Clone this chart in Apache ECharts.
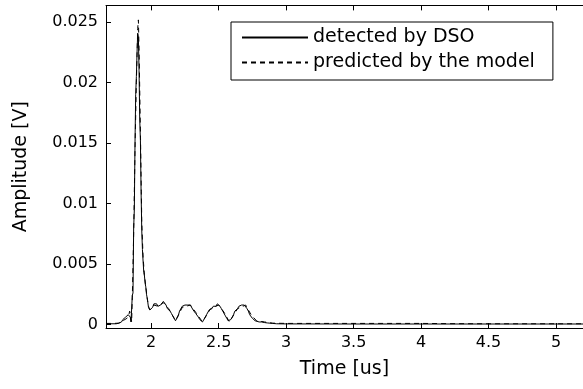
<!DOCTYPE html>
<html><head><meta charset="utf-8">
<script src="https://cdn.jsdelivr.net/npm/echarts@6/dist/echarts.min.js"></script>
<style>html,body{margin:0;padding:0;background:#fff}#c{width:583px;height:389px}</style>
</head><body><div id="c"></div>
<script>
const xTicks = [2, 2.5, 3, 3.5, 4, 4.5, 5];
const yTicks = [0, 0.005, 0.01, 0.015, 0.02, 0.025];
const seriesNames = ['detected by DSO', 'predicted by the model'];

const timeDetected = [1.665,1.70,1.74,1.76,1.78,1.79,1.80,1.81,1.82,1.83,1.84,1.845,1.85,1.855,1.86,1.865,1.87,1.875,1.88,1.885,1.89,1.895,1.90,1.905,1.91,1.915,1.92,1.925,1.93,1.935,1.94,1.945,1.95,1.955,1.96,1.965,1.97,1.975,1.98,1.99,2.00,2.01,2.02,2.03,2.04,2.05,2.06,2.07,2.08,2.09,2.10,2.11,2.12,2.13,2.14,2.15,2.16,2.17,2.18,2.19,2.20,2.21,2.22,2.23,2.24,2.25,2.26,2.27,2.28,2.29,2.30,2.31,2.32,2.33,2.34,2.35,2.36,2.37,2.38,2.39,2.40,2.41,2.42,2.43,2.44,2.45,2.46,2.47,2.48,2.49,2.50,2.51,2.52,2.53,2.54,2.55,2.56,2.57,2.58,2.59,2.60,2.61,2.62,2.63,2.64,2.65,2.66,2.67,2.68,2.69,2.70,2.71,2.72,2.73,2.74,2.75,2.76,2.77,2.78,2.80,2.82,2.84,2.86,2.88,2.90,2.93,3.00,3.50,4.00,4.50,5.00,5.20];
const detected = [0.00005,0.00005,0.00005,0.0001,0.0002,0.0004,0.0003,0.0006,0.0005,0.0008,0.0009,0.0006,0.0002,0.0001,0.0024,0.0026,0.0080,0.0095,0.0150,0.0190,0.0205,0.0225,0.0241,0.0238,0.0210,0.0170,0.0152,0.0110,0.0078,0.0062,0.0052,0.0043,0.0040,0.0034,0.0031,0.0025,0.0022,0.0018,0.0014,0.0012,0.0013,0.0014,0.0017,0.0016,0.0017,0.0015,0.0014,0.0016,0.0017,0.0019,0.0018,0.0016,0.0013,0.0014,0.0011,0.0009,0.0008,0.0005,0.0003,0.0005,0.0007,0.0011,0.0012,0.0015,0.0014,0.0016,0.0017,0.0016,0.0017,0.0016,0.0015,0.0012,0.0011,0.0009,0.0009,0.0006,0.0004,0.0003,0.0002,0.0004,0.0005,0.0008,0.0009,0.0012,0.0013,0.0013,0.0015,0.0016,0.0015,0.0017,0.0016,0.0015,0.0013,0.0011,0.0010,0.0007,0.0005,0.0003,0.0002,0.0004,0.0006,0.0008,0.0011,0.0012,0.0013,0.0015,0.0014,0.0016,0.0017,0.0016,0.0015,0.0013,0.0011,0.0008,0.0007,0.0005,0.0004,0.0003,0.0003,0.0002,0.0002,0.00015,0.00012,0.0001,0.00008,0.00005,0.00004,0.00003,0.00003,0.00003,0.00003,0.00003];

const timePredicted = [1.665,1.72,1.76,1.79,1.82,1.835,1.84,1.845,1.855,1.86,1.87,1.88,1.89,1.90,1.905,1.91,1.92,1.93,1.94,1.95,1.96,1.97,1.98,1.99,2.02,2.05,2.09,2.13,2.18,2.23,2.29,2.33,2.38,2.44,2.50,2.54,2.58,2.64,2.70,2.74,2.78,2.84,2.90,3.00,3.50,4.00,4.20,4.50,5.00,5.20];
const predicted = [0.00008,0.00008,0.0001,0.0003,0.0005,0.0008,0.0011,0.0009,0.0002,0.0022,0.0075,0.0145,0.0200,0.0245,0.0252,0.0228,0.0160,0.0085,0.0055,0.0041,0.0031,0.0022,0.0015,0.0012,0.0016,0.0015,0.0018,0.0013,0.0003,0.0014,0.0016,0.0010,0.0002,0.0013,0.0016,0.0010,0.0002,0.0013,0.0016,0.0008,0.0003,0.0002,0.0001,0.00008,0.00008,0.00008,0.00006,0.00005,0.00005,0.00005];

const chart = echarts.init(document.getElementById('c'), null, {renderer: 'canvas'});
const font = 'DejaVu Sans, Liberation Sans, sans-serif';
const pair = (xs, ys) => xs.map((x, i) => [x, ys[i]]);
const xAxisBase = {
  type: 'value', min: 1.665, max: 5.2,
  splitLine: {show: false},
  axisLine: {show: true, onZero: false, lineStyle: {color: '#000', width: 1}},
  axisTick: {show: true, inside: true, length: 5, customValues: xTicks, lineStyle: {color: '#000'}},
};
chart.setOption({
  animation: false,
  backgroundColor: '#fff',
  grid: {left: 106, top: 5.4, right: -5, bottom: 61, containLabel: false},
  legend: {
    orient: 'vertical', left: 231, top: 22,
    data: seriesNames,
    itemWidth: 66, itemHeight: 12, itemGap: 6,
    padding: [6, 18, 8, 10],
    borderColor: '#000', borderWidth: 1, backgroundColor: '#fff', borderRadius: 0,
    itemStyle: {opacity: 0},
    textStyle: {fontFamily: font, fontSize: 19, color: '#000'},
  },
  xAxis: [
    Object.assign({}, xAxisBase, {
      position: 'bottom',
      name: 'Time [us]', nameLocation: 'middle', nameGap: 32,
      nameTextStyle: {fontFamily: font, fontSize: 19, color: '#000'},
      axisLabel: {show: true, customValues: xTicks, fontFamily: font, fontSize: 16, color: '#000', margin: 7,
        formatter: v => String(+v.toFixed(3))},
    }),
    Object.assign({}, xAxisBase, {position: 'top', axisLabel: {show: false}}),
  ],
  yAxis: {
    type: 'value', min: -0.0003, max: 0.0264,
    splitLine: {show: false},
    axisLine: {show: true, onZero: false, lineStyle: {color: '#000', width: 1}},
    axisTick: {show: true, inside: true, length: 5, customValues: yTicks, lineStyle: {color: '#000'}},
    axisLabel: {customValues: yTicks, fontFamily: font, fontSize: 16, color: '#000', margin: 8,
      formatter: v => String(+v.toFixed(4))},
    name: 'Amplitude [V]', nameLocation: 'middle', nameGap: 75,
    nameTextStyle: {fontFamily: font, fontSize: 19, color: '#000'},
  },
  series: [
    {name: seriesNames[0], type: 'line', data: pair(timeDetected, detected), showSymbol: false, symbol: 'none',
      lineStyle: {color: '#000', width: 1}, itemStyle: {color: '#000'}, z: 3},
    {name: seriesNames[1], type: 'line', data: pair(timePredicted, predicted), showSymbol: false, symbol: 'none',
      lineStyle: {color: '#000', width: 1, type: [5, 4]}, itemStyle: {color: '#000'}, z: 2},
  ],
});
</script></body></html>
